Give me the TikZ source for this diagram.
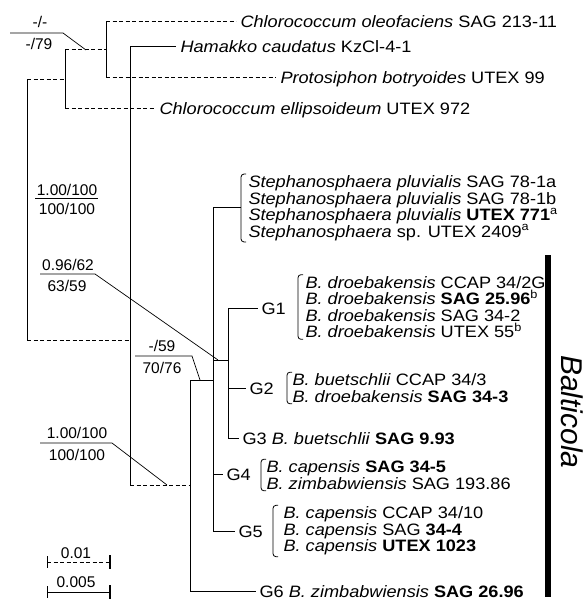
\documentclass[tikz,border=0pt]{standalone}
\usepackage{fontspec}
\setmainfont{Liberation Sans}[FakeStretch=1.1]
\newfontfamily\plainsans{Liberation Sans}
\begin{document}
\begin{tikzpicture}[x=1pt, y=-1pt, line width=1pt,
  taxon/.style={anchor=west, inner xsep=4pt, inner ysep=0pt, text height=12pt, text depth=0pt,
                font=\fontsize{16.5}{16.5}\selectfont},
  blk/.style={anchor=west, inner xsep=7pt, inner ysep=1pt, align=left,
              font=\fontsize{16.5}{16.5}\selectfont},
  supp/.style={inner sep=0pt, font=\plainsans\fontsize{15.5}{16}\selectfont},
  dbr/.style={dash pattern=on 4pt off 2.5pt},
  lead/.style={line width=0.7pt},
  brk/.style={rounded corners=3pt, line width=0.8pt}]
\useasboundingbox (0,0) rectangle (586,601);

%% Vertical lines of the tree (x in px):
%%   27 root  |  65, 106 outgroup  |  130 Hamakko node
%%   190 G6 node  |  213 Stephanosphaera/G4/G5  |  228 G1-G3

%% ---- Outgroup (dashed branches) ----
\node[taxon] (oleo)  at (236,22)  {\textit{Chlorococcum oleofaciens} SAG 213-11};
\node[taxon] (proto) at (276,78)  {\textit{Protosiphon botryoides} UTEX 99};
\node[taxon] (ellip) at (155,109) {\textit{Chlorococcum ellipsoideum} UTEX 972};
\coordinate (nA) at (106,50);
\coordinate (nB) at (65,80);
\coordinate (nR) at (27,340);

\draw (oleo.west -| nA) -- (proto.west -| nA);
\draw[dbr] (oleo.west -| nA) -- (oleo.west);
\draw[dbr] (proto.west -| nA) -- (proto.west);
\draw (nA -| nB) -- (ellip.west -| nB);
\draw[dbr] (nA -| nB) -- (nA);
\draw[dbr] (ellip.west -| nB) -- (ellip.west);
\draw (nB -| nR) -- (nR);
\draw[dbr] (nB -| nR) -- (nB);

%% ---- Hamakko node ----
\node[taxon] (hama) at (176,47) {\textit{Hamakko caudatus} KzCl-4-1};
\coordinate (nH) at (130,340);
\coordinate (nG) at (190,485);
\draw (hama.west -| nH) -- (nG -| nH);
\draw (hama.west -| nH) -- (hama.west);
\draw[dbr] (nR) -- (nH);
\draw[dbr] (nG -| nH) -- (nG);

%% ---- Stephanosphaera + G4, G5 ----
\coordinate (nS) at (213,380);
\node[blk] (steph) at (241,208)
  {\textit{Stephanosphaera pluvialis} SAG 78-1a\\
   \textit{Stephanosphaera pluvialis} SAG 78-1b\\
   \textit{Stephanosphaera pluvialis} \textbf{UTEX 771}\textsuperscript{a}\\
   \textit{Stephanosphaera} sp. UTEX 2409\textsuperscript{a}};
\node[taxon, inner xsep=3pt] (g4) at (223,474) {G4};
\node[blk, inner xsep=5pt] (g4blk) at (261,475)
  {\textit{B. capensis} \textbf{SAG 34-5}\\
   \textit{B. zimbabwiensis} SAG 193.86};
\node[taxon, inner xsep=3pt] (g5) at (235,531) {G5};
\node[blk, inner xsep=10pt] (g5blk) at (273,531)
  {\textit{B. capensis} CCAP 34/10\\
   \textit{B. capensis} SAG \textbf{34-4}\\
   \textit{B. capensis} \textbf{UTEX 1023}};

\draw (nS |- steph.west) -- (nS |- g5.west);
\draw (nS |- steph.west) -- (steph.west);
\draw (nS |- g4.west) -- (g4.west);
\draw (nS |- g5.west) -- (g5.west);

%% ---- G1 - G3 ----
\coordinate (nC) at (228,360);
\node[taxon, inner xsep=3pt] (g1) at (258,308) {G1};
\node[blk, inner xsep=7pt] (g1blk) at (298,307)
  {\textit{B. droebakensis} CCAP 34/2G\\
   \textit{B. droebakensis} \textbf{SAG 25.96}\textsuperscript{b}\\
   \textit{B. droebakensis} SAG 34-2\\
   \textit{B. droebakensis} UTEX 55\textsuperscript{b}};
\node[taxon, inner xsep=3pt] (g2) at (246,388) {G2};
\node[blk, inner xsep=5pt] (g2blk) at (287,388)
  {\textit{B. buetschlii} CCAP 34/3\\
   \textit{B. droebakensis} \textbf{SAG 34-3}};
\node[taxon, inner xsep=3pt] (g3) at (239,438)
  {G3 \textit{B. buetschlii} \textbf{SAG 9.93}};

\draw (nS |- nC) -- (nC);
\draw (nC |- g1.west) -- (nC |- g3.west);
\draw (nC |- g1.west) -- (g1.west);
\draw (nC |- g2.west) -- (g2.west);
\draw (nC |- g3.west) -- (g3.west);

%% ---- G6 ----
\node[taxon, inner xsep=3pt] (g6) at (256,591)
  {G6 \textit{B. zimbabwiensis} \textbf{SAG 26.96}};
\draw (nG |- nS) -- (nG |- g6.west);
\draw (nG |- nS) -- (nS);
\draw (nG |- g6.west) -- (g6.west);

%% ---- Brackets ----
\foreach \b in {steph, g1blk, g2blk, g4blk, g5blk}
  \draw[brk] ([xshift=5pt]\b.north west) -- (\b.north west)
             -- (\b.south west) -- ([xshift=5pt]\b.south west);

%% ---- Support values ----
\node[supp] (s1a) at (40,22) {-/-};
\node[supp] (s1b) at (39,44) {-/79};
\coordinate (p1) at (86,50);
\draw[lead] (10,33) -- (63,33) -- (p1);

\node[supp] (s2a) at (67,190) {1.00/100};
\node[supp] (s2b) at (67,209) {100/100};
\draw[lead] (35,198) -- (98,198);

\node[supp] (s3a) at (68,265) {0.96/62};
\node[supp] (s3b) at (67,286) {63/59};
\coordinate (p3) at (218,360);
\draw[lead] (40,274) -- (95,274) -- (p3);

\node[supp] (s4a) at (162,346) {-/59};
\node[supp] (s4b) at (162,368) {70/76};
\coordinate (p4) at (200,380);
\draw[lead] (135,356) -- (192,356) -- (p4);

\node[supp] (s5a) at (77,433) {1.00/100};
\node[supp] (s5b) at (77,455) {100/100};
\coordinate (p5) at (167,485);
\draw[lead] (40,443) -- (112,443) -- (p5);

%% ---- Scale bars ----
\node[supp] (sc1) at (76,553) {0.01};
\draw[dbr] (47,562) -- (110,562);
\draw[thin] (47,556) -- (47,568);
\draw[line width=1.6pt] (110,555) -- (110,569);
\node[supp] (sc2) at (76,582) {0.005};
\draw (47,592) -- (110,592);
\draw[thin] (47,586) -- (47,598);
\draw[line width=1.6pt] (110,585) -- (110,599);

%% ---- Balticola ----
\draw[line width=6pt] (548,255) -- (548,597);
\node[rotate=-90, inner sep=0pt, font=\plainsans\fontsize{30}{30}\selectfont\itshape] (balt) at (572,412) {Balticola};
\end{tikzpicture}
\end{document}
